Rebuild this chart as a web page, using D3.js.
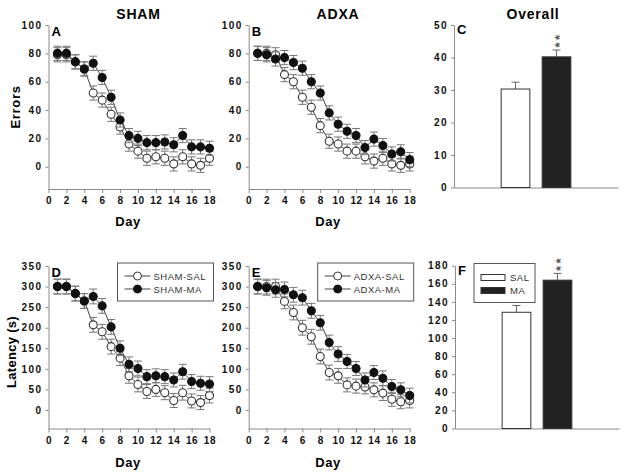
<!DOCTYPE html>
<html>
<head>
<meta charset="utf-8">
<script src="https://cdn.jsdelivr.net/npm/d3@7"></script>
<style>
  body { margin: 0; background: #fff; }
  svg { font-family: Arial, "Liberation Sans", sans-serif; }
</style>
</head>
<body>
<div id="chart"></div>
<script>
// ---- data ----
const days = [1, 2, 3, 4, 5, 6, 7, 8, 9, 10, 11, 12, 13, 14, 15, 16, 17, 18];
const dayTicks = [0, 2, 4, 6, 8, 10, 12, 14, 16, 18];

const shamSalErrors = [79, 79, 74, 69, 52, 47, 37, 28, 16, 11, 6, 7, 6, 2, 7, 2, 1, 6];
const shamMaErrors = [80, 80, 74, 69, 73, 63, 49, 33, 22, 20, 17, 17, 17.5, 15.5, 22, 14, 14, 13];
const adxaSalErrors = [80, 80, 79, 65, 60, 49, 42, 29, 18, 16, 11, 11, 7, 4, 6, 2, 1, 2];
const adxaMaErrors = [80, 79, 76, 77, 73.5, 69.5, 60, 52, 38, 30, 25, 22, 13.5, 19.5, 15, 9, 10.5, 5];
const errorsSem = [5, 5, 5, 5, 5, 5, 5, 5, 5, 5, 5, 5, 5, 5, 5, 5, 5, 5];

const shamSalLatency = [300, 300, 283, 265, 207, 190, 154, 126, 83, 62, 45, 50, 42, 23, 42, 22, 18, 35];
const shamMaLatency = [300, 300, 283, 265, 276, 253, 202, 150, 111, 101, 81, 83, 81, 73, 93, 69, 65, 63];
const adxaSalLatency = [300, 300, 300, 264, 237, 200, 178, 130, 91, 83, 61, 58, 56, 49, 41, 26, 20, 23];
const adxaMaLatency = [300, 297, 292, 293, 280, 273, 241, 212, 164, 136, 118, 101, 73, 91, 77, 57, 49, 35];
const latencySem = [18, 18, 18, 18, 18, 18, 18, 18, 18, 18, 17, 17, 17, 17, 18, 17, 17, 18];

const overallGroups = ["SAL", "MA"];
const overallErrors = [30.3, 40.2];
const overallErrorsSem = [2.1, 2.1];
const overallLatency = [128.5, 164];
const overallLatencySem = [7.5, 7.5];

const errorTicks = [0, 20, 40, 60, 80, 100];
const latencyTicks = [0, 50, 100, 150, 200, 250, 300, 350];
const overallErrorTicks = [0, 10, 20, 30, 40, 50];
const overallLatencyTicks = [0, 20, 40, 60, 80, 100, 120, 140, 160, 180];

const svg = d3.select("#chart").append("svg")
    .attr("width", 627).attr("height", 475);

const axisGrey = "#8a8a8a";

function styleAxis(g) {
    g.select(".domain").attr("stroke", axisGrey);
    g.selectAll(".tick line").attr("stroke", axisGrey);
    g.selectAll(".tick text")
        .attr("fill", "#111")
        .attr("font-size", 10)
        .attr("font-weight", "bold")
        .attr("letter-spacing", 1.4);
}

function linePanel(o) {
    const x = d3.scaleLinear().domain([0, 18]).range([o.left, o.left + 161]);
    const y = d3.scaleLinear().domain(o.yDomain).range([o.bottom, o.top]);

    const gx = svg.append("g")
        .attr("transform", "translate(0," + o.bottom + ")")
        .call(d3.axisBottom(x).tickValues(dayTicks).tickSize(4).tickSizeOuter(0).tickPadding(4));
    styleAxis(gx);
    gx.selectAll(".tick text").attr("letter-spacing", 0.6);

    const gy = svg.append("g")
        .attr("transform", "translate(" + o.left + ",0)")
        .call(d3.axisLeft(y).tickValues(o.yTicks).tickSize(3).tickSizeOuter(0).tickPadding(3));
    styleAxis(gy);

    svg.append("text")
        .attr("x", o.left + 3).attr("y", o.top + 11)
        .attr("font-size", 13).attr("font-weight", "bold")
        .text(o.letter);

    const line = d3.line().x((d, i) => x(days[i])).y(d => y(d));

    o.series.forEach(s => {
        svg.append("path")
            .datum(s.values)
            .attr("fill", "none")
            .attr("stroke", "#444")
            .attr("stroke-width", 1)
            .attr("d", line);

        const eb = svg.append("g").attr("stroke", "#777").attr("stroke-width", 1);
        s.values.forEach((v, i) => {
            const cx = x(days[i]);
            eb.append("line").attr("x1", cx).attr("x2", cx)
                .attr("y1", y(v - s.sem[i])).attr("y2", y(v + s.sem[i]));
            eb.append("line").attr("x1", cx - 4).attr("x2", cx + 4)
                .attr("y1", y(v + s.sem[i])).attr("y2", y(v + s.sem[i]));
            eb.append("line").attr("x1", cx - 4).attr("x2", cx + 4)
                .attr("y1", y(v - s.sem[i])).attr("y2", y(v - s.sem[i]));
        });

        svg.append("g").selectAll("circle")
            .data(s.values)
            .join("circle")
            .attr("cx", (d, i) => x(days[i]))
            .attr("cy", d => y(d))
            .attr("r", 4)
            .attr("fill", s.filled ? "#111" : "#fff")
            .attr("stroke", s.filled ? "#111" : "#333")
            .attr("stroke-width", 1.1);
    });

    if (o.legend) {
        const lg = svg.append("g").attr("transform", "translate(" + (o.left + 69) + "," + (o.top - 3) + ")");
        lg.append("rect").attr("width", 96).attr("height", 38)
            .attr("fill", "#fff").attr("stroke", "#555").attr("stroke-width", 1);
        o.legend.forEach((name, i) => {
            const ly = 13 + i * 13;
            lg.append("line").attr("x1", 7).attr("x2", 33).attr("y1", ly).attr("y2", ly)
                .attr("stroke", "#444");
            lg.append("circle").attr("cx", 20).attr("cy", ly).attr("r", 4)
                .attr("fill", i ? "#111" : "#fff").attr("stroke", i ? "#111" : "#333");
            lg.append("text").attr("x", 36).attr("y", ly + 3.5)
                .attr("font-size", 9.5).attr("letter-spacing", 0.5).attr("fill", "#333")
                .text(name);
        });
    }
}

function barPanel(o) {
    const x = d3.scaleLinear().domain([0, 4]).range([o.left, o.left + 164]);
    const y = d3.scaleLinear().domain(o.yDomain).range([o.bottom, o.top]);
    const xPos = [1.5, 2.5];
    const w = x(0.7) - x(0);

    const gx = svg.append("g")
        .attr("transform", "translate(0," + o.bottom + ")")
        .call(d3.axisBottom(x).tickValues([]).tickSizeOuter(0));
    styleAxis(gx);

    const gy = svg.append("g")
        .attr("transform", "translate(" + o.left + ",0)")
        .call(d3.axisLeft(y).tickValues(o.yTicks).tickSize(3).tickSizeOuter(0).tickPadding(3));
    styleAxis(gy);

    o.values.forEach((v, i) => {
        const cx = x(xPos[i]);
        svg.append("line").attr("x1", cx).attr("x2", cx)
            .attr("y1", y(v)).attr("y2", y(v + o.sem[i]))
            .attr("stroke", "#666");
        svg.append("line").attr("x1", cx - 4).attr("x2", cx + 4)
            .attr("y1", y(v + o.sem[i])).attr("y2", y(v + o.sem[i]))
            .attr("stroke", "#666");
        svg.append("rect")
            .attr("x", cx - w / 2).attr("y", y(v))
            .attr("width", w).attr("height", y(o.yDomain[0]) - y(v))
            .attr("fill", i ? "#222" : "#fff")
            .attr("stroke", "#333").attr("stroke-width", 1);
    });

    // significance mark: "**" set vertically above the MA bar
    const sx = x(xPos[1]);
    const sy = y(o.values[1] + o.sem[1]) - 9;
    svg.append("text")
        .attr("transform", "translate(" + (sx + 7.5) + "," + (sy - 1) + ") rotate(-90)")
        .attr("text-anchor", "middle")
        .attr("letter-spacing", 2.5)
        .attr("font-size", 13).attr("font-weight", "bold").attr("fill", "#555")
        .text("**");

    svg.append("text")
        .attr("x", o.left + 3).attr("y", o.top + 9)
        .attr("font-size", 13).attr("font-weight", "bold")
        .text(o.letter);

    if (o.legend) {
        const lg = svg.append("g").attr("transform", "translate(474,263.5)");
        lg.append("rect").attr("width", 61).attr("height", 39)
            .attr("fill", "#fff").attr("stroke", "#555");
        overallGroups.forEach((name, i) => {
            const ly = 14 + i * 13;
            lg.append("rect").attr("x", 7).attr("y", ly - 3).attr("width", 24).attr("height", 6)
                .attr("fill", i ? "#222" : "#fff").attr("stroke", "#333");
            lg.append("text").attr("x", 36).attr("y", ly + 3.5)
                .attr("font-size", 9.5).attr("letter-spacing", 0.5).attr("fill", "#333")
                .text(name);
        });
    }
}

// top row: errors
linePanel({ left: 48.5, top: 25, bottom: 189, yDomain: [-15.7, 100], yTicks: errorTicks, letter: "A",
    series: [
        { values: shamSalErrors, sem: errorsSem, filled: false },
        { values: shamMaErrors, sem: errorsSem, filled: true }] });
linePanel({ left: 248.7, top: 25, bottom: 189, yDomain: [-15.7, 100], yTicks: errorTicks, letter: "B",
    series: [
        { values: adxaSalErrors, sem: errorsSem, filled: false },
        { values: adxaMaErrors, sem: errorsSem, filled: true }] });
barPanel({ left: 454, top: 25, bottom: 187.5, yDomain: [0, 50], yTicks: overallErrorTicks, letter: "C",
    values: overallErrors, sem: overallErrorsSem });

// bottom row: latency
linePanel({ left: 48.5, top: 266, bottom: 428.5, yDomain: [-45, 350], yTicks: latencyTicks, letter: "D",
    legend: ["SHAM-SAL", "SHAM-MA"],
    series: [
        { values: shamSalLatency, sem: latencySem, filled: false },
        { values: shamMaLatency, sem: latencySem, filled: true }] });
linePanel({ left: 248.7, top: 266, bottom: 428.5, yDomain: [-45, 350], yTicks: latencyTicks, letter: "E",
    legend: ["ADXA-SAL", "ADXA-MA"],
    series: [
        { values: adxaSalLatency, sem: latencySem, filled: false },
        { values: adxaMaLatency, sem: latencySem, filled: true }] });
barPanel({ left: 455, top: 265.7, bottom: 428.5, yDomain: [0, 180], yTicks: overallLatencyTicks, letter: "F",
    values: overallLatency, sem: overallLatencySem, legend: true });

// titles and axis labels
const titles = [["SHAM", 138.5], ["ADXA", 338], ["Overall", 533]];
titles.forEach(t => {
    svg.append("text").attr("x", t[1]).attr("y", 19)
        .attr("text-anchor", "middle").attr("font-size", 14).attr("font-weight", "bold")
        .attr("letter-spacing", 0.8).text(t[0]);
});

[[128, 226], [328, 226], [128, 467], [328, 467]].forEach(p => {
    svg.append("text").attr("x", p[0]).attr("y", p[1])
        .attr("text-anchor", "middle").attr("font-size", 13).attr("font-weight", "bold")
        .attr("letter-spacing", 0.6).text("Day");
});

svg.append("text")
    .attr("transform", "translate(20,107) rotate(-90)")
    .attr("text-anchor", "middle").attr("font-size", 13).attr("font-weight", "bold")
    .attr("letter-spacing", 0.7).text("Errors");
svg.append("text")
    .attr("transform", "translate(16,352) rotate(-90)")
    .attr("text-anchor", "middle").attr("font-size", 13).attr("font-weight", "bold")
    .attr("letter-spacing", 0.3).text("Latency (s)");
</script>
</body>
</html>
